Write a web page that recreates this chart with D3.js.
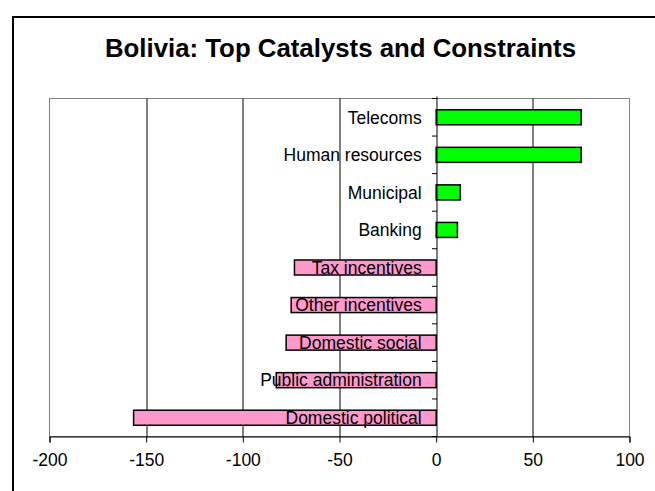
<!DOCTYPE html>
<html>
<head>
<meta charset="utf-8">
<script src="https://cdn.jsdelivr.net/npm/d3@7"></script>
<style>
  body { margin: 0; background: #fff; }
  text { font-family: "Liberation Sans", Arial, sans-serif; fill: #000; }
</style>
</head>
<body>
<div id="chart"></div>
<script>

var categories = ["Telecoms", "Human resources", "Municipal", "Banking", "Tax incentives",
    "Other incentives", "Domestic social", "Public administration", "Domestic political"];
var values = [75, 75, 12.5, 11, -73.3, -75, -77.6, -82.7, -156.5];
var xTicks = [-200, -150, -100, -50, 0, 50, 100];
var title = "Bolivia: Top Catalysts and Constraints";

var data = categories.map(function (c, i) { return {name: c, value: values[i]}; });

var W = 655, H = 491;
var margin = {top: 98.5, right: 25.5, bottom: 54.5, left: 49.5},
    width = W - margin.left - margin.right,
    height = H - margin.top - margin.bottom;

var svg = d3.select("#chart").append("svg")
    .attr("width", W)
    .attr("height", H);

// outer chart border (runs off the page on the right and bottom)
svg.append("rect")
    .attr("x", 13).attr("y", 17)
    .attr("width", 700).attr("height", 520)
    .attr("fill", "none")
    .attr("stroke", "#000")
    .attr("stroke-width", 2);

svg.append("text")
    .attr("x", 340.5)
    .attr("y", 56.5)
    .attr("text-anchor", "middle")
    .style("font-size", "25.8px")
    .style("font-weight", "bold")
    .text(title);

var g = svg.append("g")
    .attr("transform", "translate(" + margin.left + "," + margin.top + ")");

var x = d3.scaleLinear().domain([-200, 100]).range([0, width]);
var y = d3.scaleBand().domain(categories).range([0, height])
    .paddingInner(0.6).paddingOuter(0.3);

// plot frame
g.append("rect")
    .attr("width", width).attr("height", height)
    .attr("fill", "none")
    .attr("stroke", "#808080")
    .attr("stroke-width", 1);

// vertical gridlines
g.selectAll(".grid")
    .data(xTicks.filter(function (d) { return d !== 0 && d !== -200 && d !== 100; }))
    .enter().append("line")
    .attr("class", "grid")
    .attr("x1", function (d) { return Math.round(x(d)) + 0.5; })
    .attr("x2", function (d) { return Math.round(x(d)) + 0.5; })
    .attr("y1", 0).attr("y2", height)
    .attr("stroke", "#000")
    .attr("stroke-width", 1);

// bars
g.selectAll(".bar")
    .data(data)
    .enter().append("rect")
    .attr("class", "bar")
    .attr("x", function (d) { return x(Math.min(0, d.value)); })
    .attr("y", function (d) { return y(d.name); })
    .attr("width", function (d) { return Math.abs(x(d.value) - x(0)); })
    .attr("height", y.bandwidth())
    .attr("fill", function (d) { return d.value >= 0 ? "#00ff00" : "#ff99cc"; })
    .attr("stroke", "#000")
    .attr("stroke-width", 1.5);

// zero axis with ticks at category boundaries
var x0 = Math.round(x(0)) + 0.5;
g.append("line")
    .attr("x1", x0).attr("x2", x0)
    .attr("y1", -2).attr("y2", height)
    .attr("stroke", "#000");

var bounds = d3.range(categories.length + 1).map(function (i) { return i * y.step(); });
g.selectAll(".ytick")
    .data(bounds)
    .enter().append("line")
    .attr("class", "ytick")
    .attr("x1", x0 - 5).attr("x2", x0)
    .attr("y1", function (d) { return d; })
    .attr("y2", function (d) { return d; })
    .attr("stroke", "#000");

// category labels
g.selectAll(".label")
    .data(data)
    .enter().append("text")
    .attr("class", "label")
    .attr("x", x(0) - 14.5)
    .attr("y", function (d) { return y(d.name) + y.bandwidth() / 2; })
    .attr("dy", "0.36em")
    .attr("text-anchor", "end")
    .style("font-size", "17.5px")
    .text(function (d) { return d.name; });

// bottom axis
var xAxis = g.append("g")
    .attr("transform", "translate(0," + height + ")")
    .call(d3.axisBottom(x).tickValues(xTicks).tickSize(6).tickPadding(11.5)
        .tickFormat(function (d) { return String(d); }));

xAxis.select(".domain").attr("stroke", "#000");
xAxis.selectAll(".tick line").attr("stroke", "#000");
xAxis.selectAll("text")
    .style("font-size", "17.5px")
    .style("font-family", "'Liberation Sans', Arial, sans-serif")
    .attr("fill", "#000");

</script>
</body>
</html>
